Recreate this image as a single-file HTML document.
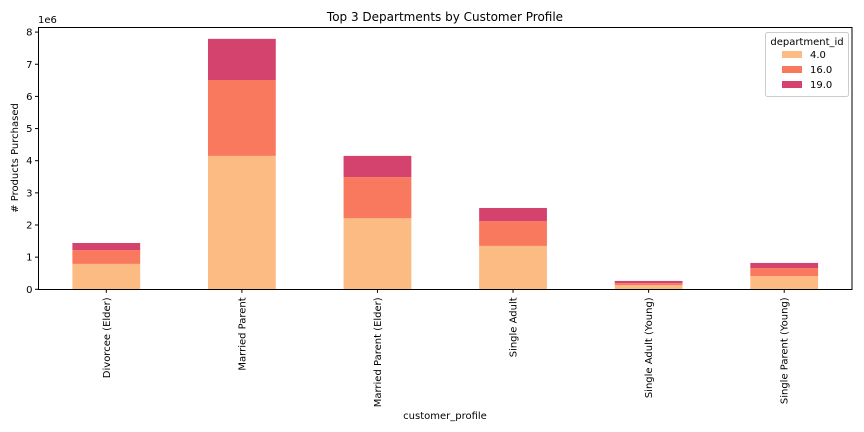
<!DOCTYPE html>
<html><head><meta charset="utf-8"><style>
body{margin:0;background:#fff;}
svg{display:block;font-family:"DejaVu Sans","Liberation Sans",sans-serif;}
</style></head><body>
<svg id="chart" width="864" height="432" viewBox="0 0 864 432">
<rect width="864" height="432" fill="#fff"/>
<text x="445" y="21" font-size="12" text-anchor="middle" fill="#000">Top 3 Departments by Customer Profile</text>
<g id="bars"></g>
<g id="yaxis"></g>
<g id="xaxis"></g>
<rect x="38.5" y="27.5" width="813.5" height="262" fill="none" stroke="#000" stroke-width="1"/>
<text x="38" y="23" font-size="10" fill="#000">1e6</text>
<text transform="translate(18,158) rotate(-90)" font-size="10" text-anchor="middle" fill="#000"># Products Purchased</text>
<text x="445" y="419" font-size="10" text-anchor="middle" fill="#000">customer_profile</text>
<g>
<rect x="765.5" y="32.5" width="83" height="64" rx="2" fill="#fff" stroke="#ccc"/>
<text x="807" y="45" font-size="10" text-anchor="middle" fill="#000">department_id</text>
<g id="legend-entries"></g>
</g>
</svg>
<script>
const categories=["Divorcee (Elder)","Married Parent","Married Parent (Elder)","Single Adult","Single Adult (Young)","Single Parent (Young)"];
const seriesNames=["4.0","16.0","19.0"];
const dept4=[0.79,4.15,2.21,1.35,0.13,0.41];
const dept16=[0.43,2.36,1.28,0.77,0.06,0.25];
const dept19=[0.22,1.28,0.66,0.41,0.07,0.16];
const yTicks=[0,1,2,3,4,5,6,7,8];
const colors=["#fcbb82","#f8795e","#d3436e"];
const NS="http://www.w3.org/2000/svg";
const x0=38.5,x1=852,y0=289.3,yPer=32.15;
const step=(x1-x0)/categories.length, bw=step*0.5;
const xc=i=>x0+step*(i+0.5);
const ys=v=>y0-v*yPer;
function mk(tag,attrs,parent){const e=document.createElementNS(NS,tag);for(const k in attrs)e.setAttribute(k,attrs[k]);parent.appendChild(e);return e;}
const bars=document.getElementById('bars');
const series=[dept4,dept16,dept19];
categories.forEach((c,i)=>{
  let base=0;
  series.forEach((s,j)=>{
    const r=mk('rect',{x:xc(i)-bw/2,y:ys(base+s[i]),width:bw,height:s[i]*yPer,fill:colors[j]},bars);
    
    
    base+=s[i];
  });
});
const ya=document.getElementById('yaxis');
yTicks.forEach(t=>{
  const l=mk('line',{x1:x0-3.5,x2:x0,y1:ys(t),y2:ys(t),stroke:'#000'},ya);
  
  
  const tx=mk('text',{x:x0-6,y:ys(t)+3.5,'font-size':10,'text-anchor':'end',fill:'#000'},ya);
  tx.textContent=t;
  
  
});
const xa=document.getElementById('xaxis');
categories.forEach((c,i)=>{
  const l=mk('line',{x1:xc(i),x2:xc(i),y1:y0,y2:y0+3.5,stroke:'#000'},xa);
  
  
  const tx=mk('text',{transform:`translate(${xc(i)+3.5},${y0+8}) rotate(-90)`,'font-size':10,'text-anchor':'end',fill:'#000'},xa);
  tx.textContent=c;
  
  
});
const lg=document.getElementById('legend-entries');
seriesNames.forEach((n,j)=>{
  const y=51+j*15;
  const r=mk('rect',{x:782,y:y,width:20,height:7,fill:colors[j]},lg);
  
  
  const t=mk('text',{x:810,y:y+7,'font-size':10,fill:'#000'},lg);
  t.textContent=n;
  
  
});
</script>
</body></html>
